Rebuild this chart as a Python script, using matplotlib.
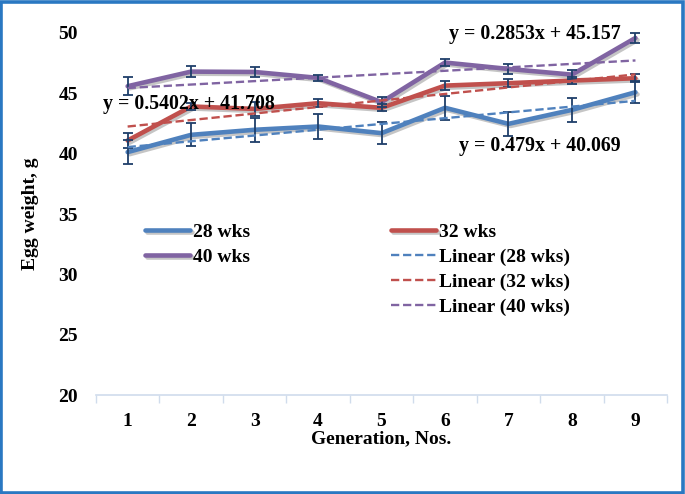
import matplotlib
matplotlib.use('Agg')
import matplotlib.pyplot as plt
import matplotlib.patheffects as pe
from matplotlib.patches import Rectangle
import numpy as np

plt.rcParams['font.family'] = 'Liberation Serif'
plt.rcParams['font.weight'] = 'bold'
plt.rcParams['axes.labelweight'] = 'bold'

# data
gen = [1, 2, 3, 4, 5, 6, 7, 8, 9]
wk28 = [40.13, 41.56, 41.98, 42.25, 41.70, 43.80, 42.47, 43.63, 45.09]
wk32 = [41.09, 43.91, 43.71, 44.18, 43.80, 45.64, 45.84, 46.06, 46.25]
wk40 = [45.59, 46.80, 46.77, 46.28, 44.27, 47.55, 47.02, 46.55, 49.59]
err28 = [1.0, 0.95, 1.0, 1.0, 0.9, 1.0, 1.0, 1.0, 0.9]
err32 = [0.6, 0.3, 0.6, 0.35, 0.3, 0.35, 0.35, 0.3, 0.35]
err40 = [0.75, 0.45, 0.45, 0.25, 0.4, 0.3, 0.4, 0.35, 0.45]
# trendline coefficients (slope, intercept) as shown
trend28 = (0.479, 40.069)
trend32 = (0.5402, 41.708)
trend40 = (0.2853, 45.157)

c28, c32, c40 = '#4F81BD', '#C0504D', '#8064A2'
ecol = '#1F3F6A'

fig = plt.figure(figsize=(6.85, 4.94), dpi=100)
ax = fig.add_axes([0.140, 0.2004, 0.834, 0.7328])

shadow = [pe.SimpleLineShadow(offset=(1.5, -1.5), shadow_color='gray', alpha=0.45), pe.Normal()]

x = np.array(gen)
lines = {}
for y, e, col, name in [(wk28, err28, c28, '28 wks'), (wk32, err32, c32, '32 wks'), (wk40, err40, c40, '40 wks')]:
    ax.errorbar(x, y, yerr=e, fmt='none', ecolor=ecol, elinewidth=1.3, capsize=3.5, capthick=1.3, zorder=4, clip_on=False)
    l, = ax.plot(x, y, color=col, lw=3.3, label=name, zorder=3, path_effects=shadow, solid_capstyle='round', clip_on=False)
    lines[name] = l

tl = {}
for (m, b), col, name in [(trend28, c28, 'Linear (28 wks)'), (trend32, c32, 'Linear (32 wks)'), (trend40, c40, 'Linear (40 wks)')]:
    l, = ax.plot(x, m * x + b, color=col, lw=1.7, ls=(0, (3.5, 1.6)), label=name, zorder=5)
    tl[name] = l

ax.text(1.97, 44.12, 'y = 0.5402x + 41.708', fontsize=14.3, ha='center', va='center', zorder=6)
ax.text(7.41, 49.9, 'y = 0.2853x + 45.157', fontsize=14.3, ha='center', va='center', zorder=6)
ax.text(7.50, 40.64, 'y = 0.479x + 40.069', fontsize=14.3, ha='center', va='center', zorder=6)

ax.set_xlim(0.5, 9.5)
ax.set_ylim(20, 50)
ax.set_yticks([20, 25, 30, 35, 40, 45, 50])
ax.set_xticks(gen)
ax.set_xticks(np.arange(0.5, 10, 1), minor=True)
ax.tick_params(axis='x', which='major', length=0, pad=13, labelsize=14)
ax.tick_params(axis='x', which='minor', length=6, color='#D0DCEC', width=1)
ax.tick_params(axis='y', length=0, pad=13, labelsize=14)
for s in ['top', 'right', 'left']:
    ax.spines[s].set_visible(False)
ax.spines['bottom'].set_color('#D0DCEC')
ax.spines['bottom'].set_linewidth(1.2)

ax.set_xlabel('Generation, Nos.', fontsize=14, labelpad=0)
ax.set_ylabel('Egg weight, g', fontsize=14, labelpad=14)

leg1 = ax.legend(handles=[lines['28 wks'], lines['40 wks']], loc='upper left', bbox_to_anchor=(0.086, 0.474),
                 frameon=False, fontsize=14, handlelength=2.3, handletextpad=0.15, labelspacing=0.38,
                 borderaxespad=0, borderpad=0)
ax.add_artist(leg1)
ax.legend(handles=[lines['32 wks'], tl['Linear (28 wks)'], tl['Linear (32 wks)'], tl['Linear (40 wks)']],
          loc='upper left', bbox_to_anchor=(0.517, 0.474), frameon=False, fontsize=14, handlelength=2.3,
          handletextpad=0.15, labelspacing=0.38, borderaxespad=0, borderpad=0)

fig.patches.append(Rectangle((0.002, 0.003), 0.995, 0.993, transform=fig.transFigure, fill=False,
                             edgecolor='#2A78C2', lw=2.6))

fig.savefig('out.png', dpi=100)
